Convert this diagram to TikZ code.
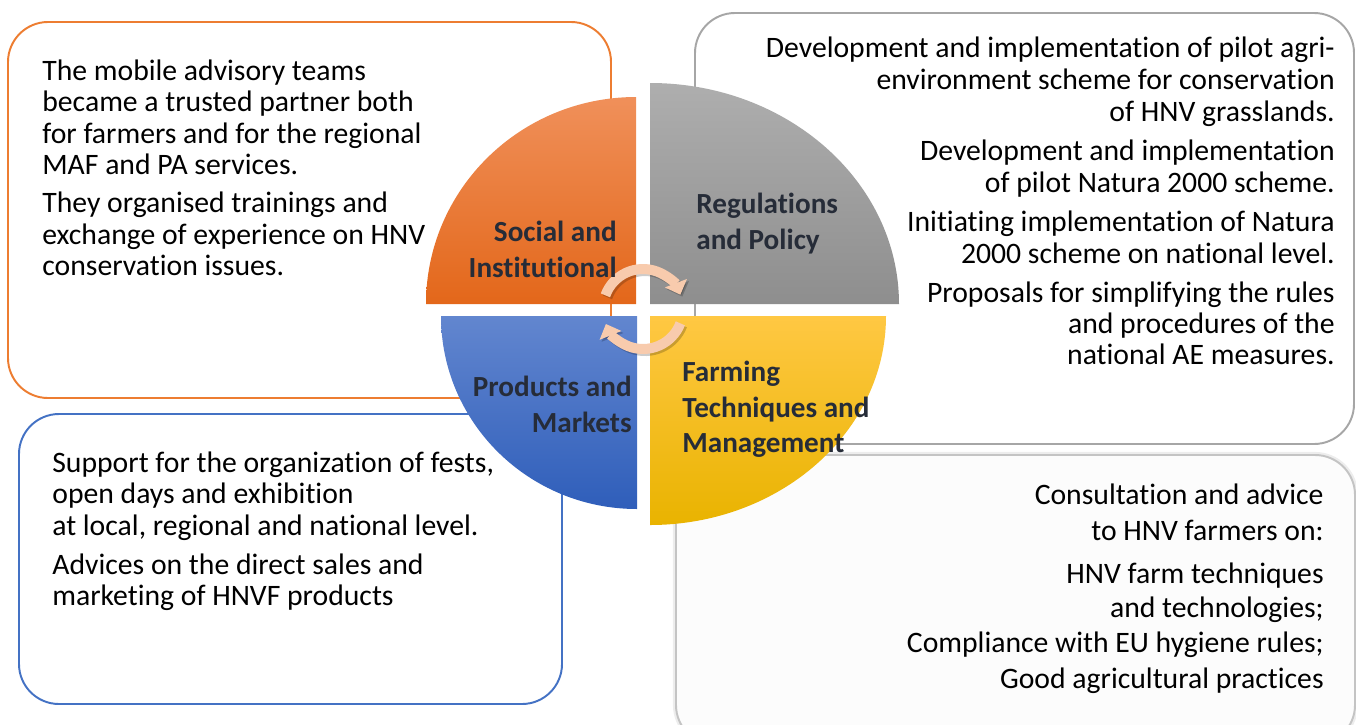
\documentclass[tikz,border=0pt]{standalone}
\usepackage{fontspec}
\setmainfont{Carlito}[Ligatures=NoCommon]
\usetikzlibrary{arrows.meta}

\definecolor{orbord}{HTML}{ED7D31}
\definecolor{blbord}{HTML}{4472C4}
\definecolor{grbord}{HTML}{A6A6A6}
\definecolor{trbord}{HTML}{C4C4C4}
\definecolor{trfill}{HTML}{FCFCFC}
\definecolor{labeltext}{HTML}{262C38}
\definecolor{loopfill}{HTML}{F8CBAD}
\definecolor{qOrTop}{HTML}{F0905A}
\definecolor{qOrBot}{HTML}{E3671A}
\definecolor{qGrTop}{HTML}{AEAEAE}
\definecolor{qGrBot}{HTML}{8E8E8E}
\definecolor{qYeTop}{HTML}{FFC843}
\definecolor{qYeBot}{HTML}{E9B300}
\definecolor{qBlTop}{HTML}{6286CF}
\definecolor{qBlBot}{HTML}{2F5EBA}

\begin{document}
\begin{tikzpicture}[x=0.02cm, y=0.02cm,
  panel/.style={line width=1.1pt, rounded corners=0.8cm, fill=white},
  bodyline/.style={font=\fontsize{16.9}{19}\selectfont, inner sep=0pt, text=black},
  lbl/.style={font=\fontsize{16.6}{20}\selectfont\bfseries, inner sep=0pt, text=labeltext},
  loopline/.style={line width=5.7pt, draw=loopfill, -{Triangle[width=13pt,length=7pt]}},
  loopshadow/.style={line width=5.7pt, draw=black, opacity=0.2, -{Triangle[width=13pt,length=7pt]}}]
\useasboundingbox (0,0) rectangle (1356,-724);
\clip (0,0) rectangle (1356,-724);

% text panels
\draw[panel, draw=orbord] (8,-22) rectangle (611,-398);
\draw[panel, draw=grbord] (695,-13) rectangle (1354,-444);
\draw[panel, draw=blbord] (19,-414) rectangle (562,-704);
\draw[line width=3.5pt, draw=black!7, rounded corners=0.8cm] (676,-455) rectangle (1355,-745);
\draw[line width=1.1pt, draw=trbord, fill=trfill, rounded corners=0.8cm] (676,-455) rectangle (1355,-745);

% social and institutional panel text
\node[bodyline, anchor=base west] (s1) at (42,-80) {The mobile advisory teams};
\node[bodyline, anchor=base west] (s2) at (42,-111.5) {became a trusted partner both};
\node[bodyline, anchor=base west] (s3) at (42,-143) {for farmers and for the regional};
\node[bodyline, anchor=base west] (s4) at (42,-174.5) {MAF and PA services.};
\node[bodyline, anchor=base west] (s5) at (42,-212.5) {They organised trainings and};
\node[bodyline, anchor=base west] (s6) at (42,-244) {exchange of experience on HNV};
\node[bodyline, anchor=base west] (s7) at (42,-275.5) {conservation issues.};

% regulations and policy panel text
\node[bodyline, anchor=base east] (r1) at (1335,-57) {Development and implementation of pilot agri-};
\node[bodyline, anchor=base east] (r2) at (1335,-89) {environment scheme for conservation};
\node[bodyline, anchor=base east] (r3) at (1335,-121) {of HNV grasslands.};
\node[bodyline, anchor=base east] (r4) at (1335,-160) {Development and implementation};
\node[bodyline, anchor=base east] (r5) at (1335,-192) {of pilot Natura 2000 scheme.};
\node[bodyline, anchor=base east] (r6) at (1335,-231) {Initiating implementation of Natura};
\node[bodyline, anchor=base east] (r7) at (1335,-263) {2000 scheme on national level.};
\node[bodyline, anchor=base east] (r8) at (1335,-302) {Proposals for simplifying the rules};
\node[bodyline, anchor=base east] (r9) at (1335,-333) {and procedures of the};
\node[bodyline, anchor=base east] (r10) at (1335,-364) {national AE measures.};

% products and markets panel text
\node[bodyline, anchor=base west] (p1) at (52,-472) {Support for the organization of fests,};
\node[bodyline, anchor=base west] (p2) at (52,-503) {open days and exhibition};
\node[bodyline, anchor=base west] (p3) at (52,-535) {at local, regional and national level.};
\node[bodyline, anchor=base west] (p4) at (52,-574) {Advices on the direct sales and};
\node[bodyline, anchor=base west] (p5) at (52,-605) {marketing of HNVF products};

% farming techniques panel text
\node[bodyline, anchor=base east] (f1) at (1324,-504) {Consultation and advice};
\node[bodyline, anchor=base east] (f2) at (1324,-540) {to HNV farmers on:};
\node[bodyline, anchor=base east] (f3) at (1324,-583) {HNV farm techniques};
\node[bodyline, anchor=base east] (f4) at (1324,-617) {and technologies;};
\node[bodyline, anchor=base east] (f5) at (1324,-652) {Compliance with EU hygiene rules;};
\node[bodyline, anchor=base east] (f6) at (1324,-688) {Good agricultural practices};

% the four quadrants
\shade[top color=qOrTop, bottom color=qOrBot]
  (636,-304) -- (426,-304) arc[start angle=180, end angle=90, x radius=210, y radius=207] -- cycle;
\shade[top color=qGrTop, bottom color=qGrBot]
  (650,-304) -- (650,-83) arc[start angle=90, end angle=0, x radius=249, y radius=221] -- cycle;
\shade[top color=qYeTop, bottom color=qYeBot]
  (650,-316) -- (886,-316) arc[start angle=0, end angle=-90, x radius=236, y radius=209] -- cycle;
\shade[top color=qBlTop, bottom color=qBlBot]
  (637,-316) -- (637,-509) arc[start angle=-90, end angle=-180, x radius=196, y radius=193] -- cycle;

% circular arrows at the hub
\coordinate (hub) at (643,-309);
\coordinate (hubs) at (645,-311);
\draw[loopshadow] ([shift={(160:40)}]hubs) arc[start angle=160, end angle=21, radius=40];
\draw[loopshadow] ([shift={(-21:40)}]hubs) arc[start angle=-21, end angle=-158, radius=40];
\draw[loopline] ([shift={(160:40)}]hub) arc[start angle=160, end angle=21, radius=40];
\draw[loopline] ([shift={(-21:40)}]hub) arc[start angle=-21, end angle=-158, radius=40];

% quadrant labels
\node[lbl, anchor=base east] (q1a) at (617,-241) {Social and};
\node[lbl, anchor=base east] (q1b) at (617,-277) {Institutional};
\node[lbl, anchor=base west] (q2a) at (696,-213) {Regulations};
\node[lbl, anchor=base west] (q2b) at (696,-249) {and Policy};
\node[lbl, anchor=base east] (q3a) at (632,-396) {Products and};
\node[lbl, anchor=base east] (q3b) at (632,-432) {Markets};
\node[lbl, anchor=base west] (q4a) at (682,-381) {Farming};
\node[lbl, anchor=base west] (q4b) at (682,-417) {Techniques and};
\node[lbl, anchor=base west] (q4c) at (682,-452) {Management};
\end{tikzpicture}
\end{document}
